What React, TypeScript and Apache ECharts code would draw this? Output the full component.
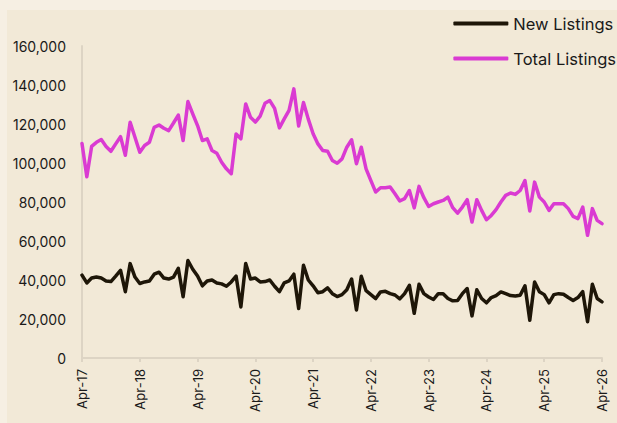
import React, { useEffect, useRef } from "react";
import * as echarts from "echarts";

const monthNames = ["Jan", "Feb", "Mar", "Apr", "May", "Jun", "Jul", "Aug", "Sep", "Oct", "Nov", "Dec"];
const startYear = 2017;
const startMonth = 3; // April
const monthCount = 109; // Apr-17 .. Apr-26

const categories: string[] = [];
for (let i = 0; i < monthCount; i++) {
  const m = (startMonth + i) % 12;
  const y = startYear + Math.floor((startMonth + i) / 12);
  categories.push(`${monthNames[m]}-${String(y).slice(2)}`);
}

const newListings = [
  42500, 38500, 41000, 41500, 41000, 39500, 39200, 42000, 45000, 34000,
  48400, 41500, 38200, 39000, 39500, 43000, 44000, 41000, 40500, 41500,
  46000, 31400, 50000, 45500, 42000, 37000, 39500, 40000, 38500, 38000,
  36800, 39000, 42000, 26200, 48500, 40500, 41000, 39000, 39200, 40000,
  36800, 34000, 38500, 39500, 43000, 25400, 47600, 40000, 37000, 33500,
  34000, 36000, 33000, 31500, 32500, 35000, 40500, 24600, 41900, 34500,
  32500, 30500, 33900, 34200, 33000, 32300, 30300, 33000, 37300, 22900,
  37800, 33000, 31300, 30000, 33000, 33000, 30500, 29300, 29500, 33000,
  35600, 21600, 35000, 30500, 28300, 31000, 32000, 33900, 33000, 32000,
  31800, 32200, 37000, 19400, 39000, 34000, 32500, 28300, 32500, 33000,
  32700, 31000, 29500, 31000, 34000, 18600, 37800, 30500, 28800,
];

const totalListings = [
  110000, 93000, 108500, 110600, 112000, 108500, 106000, 109800, 113500, 104000,
  120900, 113200, 105500, 109000, 110600, 118300, 119500, 117800, 116600, 120500,
  124600, 111500, 131500, 125200, 119200, 111500, 112400, 106400, 105000, 100400,
  97000, 94500, 114900, 112400, 130300, 123400, 121000, 124000, 130600, 132000,
  128000, 118000, 122600, 127000, 138000, 119000, 131000, 122500, 115000, 109800,
  106400, 106000, 101300, 99900, 102100, 108100, 111900, 99600, 108100, 97000,
  91000, 85100, 87300, 87300, 87700, 84200, 80500, 81700, 85900, 77000,
  88000, 82200, 77700, 79100, 80000, 80800, 82500, 77100, 74300, 77400,
  81200, 69700, 81200, 75700, 70900, 73100, 76100, 80000, 83400, 84600,
  83900, 85900, 91000, 75400, 90200, 82500, 80000, 75700, 79100, 79100,
  79100, 76600, 72600, 71500, 77400, 62900, 76600, 70600, 68900,
];

const seriesNames = ["New Listings", "Total Listings"];
const colors = ["#1e1608", "#da3bd2"];

export default function App() {
  const ref = useRef<HTMLDivElement>(null);
  useEffect(() => {
    if (!ref.current) return;
    const chart = echarts.init(ref.current, undefined, { renderer: "svg" });
    const font = "Inter, 'Noto Sans', sans-serif";
    chart.setOption({
      animation: false,
      backgroundColor: "#f6efe3",
      textStyle: { fontFamily: font },
      graphic: [
        {
          type: "rect",
          left: 7,
          top: 10,
          shape: { width: 610, height: 413 },
          style: { fill: "#f2e9d7" },
          z: -10,
          silent: true,
        },
      ],
      grid: { left: 82, right: 15, top: 46, bottom: 65, containLabel: false },
      legend: {
        orient: "vertical",
        right: 1,
        top: 15,
        icon: "roundRect",
        itemWidth: 55,
        itemHeight: 4,
        itemGap: 18,
        padding: 0,
        data: seriesNames,
        textStyle: { fontSize: 16.5, color: "#1a1a1a", fontFamily: font },
      },
      xAxis: {
        type: "category",
        data: categories,
        boundaryGap: false,
        axisLine: { lineStyle: { color: "#ddd4c4", width: 2 } },
        axisTick: {
          show: true,
          length: 4,
          interval: (i: number) => i % 12 === 0,
          lineStyle: { color: "#ddd4c4", width: 2 },
        },
        axisLabel: {
          interval: (i: number) => i % 12 === 0,
          rotate: 90,
          margin: 11,
          fontSize: 13,
          color: "#1a1a1a",
          fontFamily: font,
        },
        splitLine: { show: false },
      },
      yAxis: {
        type: "value",
        min: 0,
        max: 160000,
        interval: 20000,
        axisLine: { show: true, lineStyle: { color: "#ddd4c4", width: 2 } },
        axisTick: { show: false },
        splitLine: { show: false },
        axisLabel: {
          margin: 16,
          fontSize: 14,
          color: "#1a1a1a",
          fontFamily: font,
          formatter: (v: number) => v.toLocaleString("en-US"),
        },
      },
      series: [
        {
          name: seriesNames[0],
          type: "line",
          data: newListings,
          showSymbol: false,
          color: colors[0],
          lineStyle: { width: 3.5, color: colors[0], cap: "round", join: "round" },
          z: 3,
        },
        {
          name: seriesNames[1],
          type: "line",
          data: totalListings,
          showSymbol: false,
          color: colors[1],
          lineStyle: { width: 3.5, color: colors[1], cap: "round", join: "round" },
          z: 2,
        },
      ],
    });
    return () => chart.dispose();
  }, []);
  return (
    <div
      ref={ref}
      style={{ position: "absolute", left: 0, top: 0, width: 617, height: 423 }}
    />
  );
}
